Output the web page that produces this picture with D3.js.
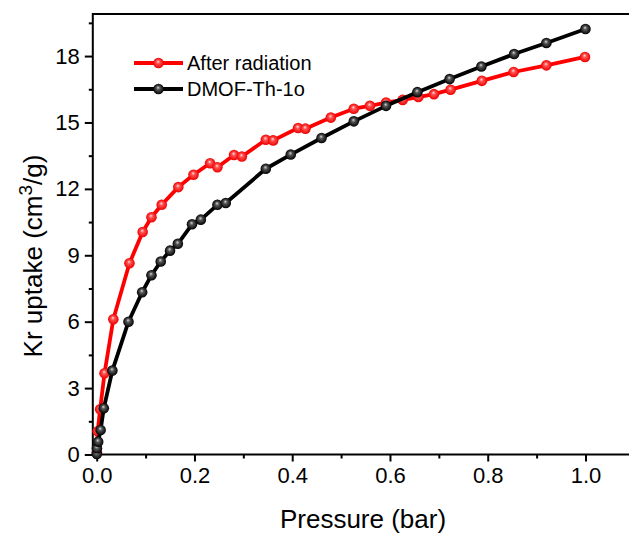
<!DOCTYPE html>
<html>
<head>
<meta charset="utf-8">
<script src="https://cdn.jsdelivr.net/npm/d3@7"></script>
<style>
  html, body { margin: 0; padding: 0; background: #fff; }
  svg { display: block; font-family: "Liberation Sans", Arial, sans-serif; }
</style>
</head>
<body>
<svg id="chart" width="629" height="536"></svg>
<script>
// ---- data ----
const afterPressure = [0.0005, 0.002, 0.007, 0.016, 0.034, 0.067, 0.094, 0.112, 0.133, 0.167, 0.198, 0.232, 0.247, 0.281, 0.297, 0.346, 0.361, 0.412, 0.427, 0.479, 0.526, 0.559, 0.592, 0.626, 0.658, 0.690, 0.724, 0.788, 0.853, 0.920, 0.999];
const afterUptake   = [0.1, 1.05, 2.04, 3.67, 6.11, 8.64, 10.05, 10.72, 11.28, 12.08, 12.64, 13.16, 12.98, 13.53, 13.46, 14.22, 14.19, 14.75, 14.72, 15.22, 15.62, 15.75, 15.90, 16.02, 16.15, 16.28, 16.48, 16.88, 17.28, 17.58, 17.96];
const dmofPressure  = [0.0003, 0.0005, 0.003, 0.008, 0.0145, 0.032, 0.065, 0.093, 0.112, 0.131, 0.150, 0.166, 0.195, 0.213, 0.247, 0.264, 0.346, 0.397, 0.460, 0.526, 0.592, 0.656, 0.722, 0.787, 0.854, 0.920, 1.000];
const dmofUptake    = [0.02, 0.28, 0.58, 1.11, 2.09, 3.79, 6.00, 7.33, 8.10, 8.72, 9.21, 9.52, 10.40, 10.61, 11.28, 11.36, 12.91, 13.55, 14.30, 15.05, 15.75, 16.37, 16.96, 17.53, 18.09, 18.59, 19.22];
const seriesNames = ["After radiation", "DMOF-Th-1o"];
const xTickValues = [0, 0.2, 0.4, 0.6, 0.8, 1.0];
const xMinorValues = [0.1, 0.3, 0.5, 0.7, 0.9, 1.1];
const yTickValues = [0, 3, 6, 9, 12, 15, 18];
const yMinorValues = [1.5, 4.5, 7.5, 10.5, 13.5, 16.5, 19.5];

// ---- layout ----
const svg = d3.select("#chart");
const pLeft = 92.8, pRight = 628, pTop = 14, pBottom = 454.5;
const x = d3.scaleLinear().domain([-0.008, 1.087]).range([pLeft, pRight]);
const y = d3.scaleLinear().domain([0, 19.9]).range([pBottom, pTop]);

// gradients for sphere-like markers
const defs = svg.append("defs");
function grad(id, hi, mid, base) {
  const g = defs.append("radialGradient").attr("id", id)
    .attr("cx", "50%").attr("cy", "50%").attr("r", "50%")
    .attr("fx", "45%").attr("fy", "35%");
  g.append("stop").attr("offset", "0%").attr("stop-color", hi);
  g.append("stop").attr("offset", "35%").attr("stop-color", mid);
  g.append("stop").attr("offset", "100%").attr("stop-color", base);
}
grad("gRed", "#ffe0e0", "#ff5050", "#ee0000");
grad("gBlack", "#d8d8d8", "#555555", "#000000");

// axes
const fontTick = 22;
const xAxis = d3.axisBottom(x).tickValues(xTickValues).tickFormat(d3.format(".1f")).tickSize(7).tickPadding(6);
const xMinor = d3.axisBottom(x).tickValues(xMinorValues).tickFormat("").tickSize(4);
const yAxis = d3.axisLeft(y).tickValues(yTickValues).tickFormat(d3.format("d")).tickSize(8).tickPadding(5);
const yMinor = d3.axisLeft(y).tickValues(yMinorValues).tickFormat("").tickSize(4);

function styleAxis(g) {
  g.select(".domain").remove();
  g.selectAll(".tick line").attr("stroke", "#000").attr("stroke-width", 2);
  g.selectAll(".tick text").attr("fill", "#000").style("font-size", fontTick + "px")
    .style("font-family", '"Liberation Sans", Arial, sans-serif');
}
svg.append("g").attr("transform", `translate(0,${pBottom})`).call(xAxis).call(styleAxis);
svg.append("g").attr("transform", `translate(0,${pBottom})`).call(xMinor).call(styleAxis);
svg.append("g").attr("transform", `translate(${pLeft},0)`).call(yAxis).call(styleAxis);
svg.append("g").attr("transform", `translate(${pLeft},0)`).call(yMinor).call(styleAxis);

// frame (left, bottom, top; right edge is cropped)
svg.append("path")
  .attr("d", `M${pRight + 5},${pTop} L${pLeft},${pTop} L${pLeft},${pBottom} L${pRight + 5},${pBottom}`)
  .attr("fill", "none").attr("stroke", "#000").attr("stroke-width", 2);

// series
const series = [
  { name: seriesNames[0], px: afterPressure, py: afterUptake, color: "#ff0000", fill: "url(#gRed)" },
  { name: seriesNames[1], px: dmofPressure, py: dmofUptake, color: "#000000", fill: "url(#gBlack)" }
];
const line = d3.line().x(d => x(d[0])).y(d => y(d[1]));
series.forEach(s => {
  const pts = s.px.map((p, i) => [p, s.py[i]]);
  const g = svg.append("g");
  g.append("path").datum(pts).attr("d", line)
    .attr("fill", "none").attr("stroke", s.color).attr("stroke-width", 3.8)
    .attr("stroke-linejoin", "round");
  g.selectAll("circle").data(pts).join("circle")
    .attr("cx", d => x(d[0])).attr("cy", d => y(d[1])).attr("r", 5.3)
    .attr("fill", s.fill);
});

// legend
const legX0 = 134, legX1 = 183, legY = [63, 89];
series.forEach((s, i) => {
  const g = svg.append("g");
  g.append("line").attr("x1", legX0).attr("x2", legX1).attr("y1", legY[i]).attr("y2", legY[i])
    .attr("stroke", s.color).attr("stroke-width", 3.8);
  g.append("circle").attr("cx", (legX0 + legX1) / 2).attr("cy", legY[i]).attr("r", 5.3).attr("fill", s.fill);
  g.append("text").attr("x", 187).attr("y", legY[i] + 7).text(s.name)
    .style("font-size", "20px").attr("fill", "#000");
});

// axis titles
svg.append("text").attr("x", 363).attr("y", 528)
  .attr("text-anchor", "middle").style("font-size", "26px").text("Pressure (bar)");

const yt = svg.append("text").attr("transform", "translate(42,256) rotate(-90)")
  .attr("text-anchor", "middle").style("font-size", "26px");
yt.append("tspan").text("Kr uptake (cm");
yt.append("tspan").attr("dy", -10).style("font-size", "19px").text("3");
yt.append("tspan").attr("dy", 10).text("/g)");
</script>
</body>
</html>
